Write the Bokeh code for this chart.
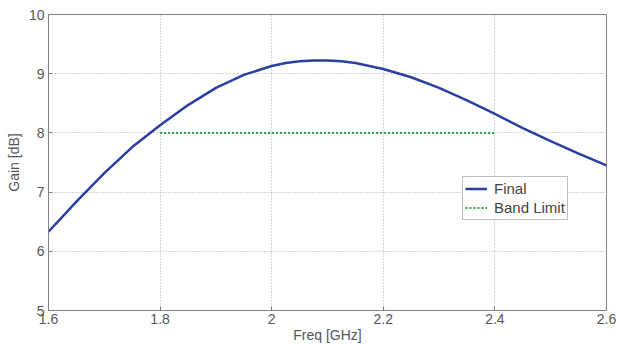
from bokeh.plotting import figure
from bokeh.embed import file_html
from bokeh.resources import INLINE
from bokeh.models import Legend, LegendItem, FixedTicker, Range1d

freq = [1.6, 1.65, 1.7, 1.75, 1.8, 1.85, 1.9, 1.95, 2.0, 2.025, 2.05, 2.075, 2.1,
        2.125, 2.15, 2.2, 2.25, 2.3, 2.35, 2.4, 2.45, 2.5, 2.55, 2.6]
gain = [6.33, 6.84, 7.32, 7.76, 8.13, 8.47, 8.76, 8.98, 9.13, 9.18, 9.21, 9.225, 9.225,
        9.21, 9.18, 9.08, 8.94, 8.76, 8.55, 8.32, 8.08, 7.86, 7.65, 7.45]
band_freq = [1.8, 2.4]
band_gain = [8.0, 8.0]
x_ticks = [1.6, 1.8, 2.0, 2.2, 2.4, 2.6]
x_labels = {1.6: "1.6", 1.8: "1.8", 2.0: "2", 2.2: "2.2", 2.4: "2.4", 2.6: "2.6"}
y_ticks = [5, 6, 7, 8, 9, 10]

p = figure(width=617, height=348, output_backend="svg", toolbar_location=None,
           x_range=Range1d(1.6, 2.6), y_range=Range1d(5, 10),
           min_border_left=48, min_border_right=11, min_border_top=14, min_border_bottom=38)
p.background_fill_color = "white"
p.border_fill_color = "white"
p.outline_line_color = "#808080"
p.outline_line_width = 1

font = "Liberation Sans"
for ax in (p.xaxis[0], p.yaxis[0]):
    ax.axis_line_color = "#808080"
    ax.major_tick_line_color = "#808080"
    ax.major_tick_in = 4
    ax.major_tick_out = 0
    ax.minor_tick_line_color = None
    ax.major_label_text_font = font
    ax.major_label_text_font_size = "14px"
    ax.major_label_text_color = "#555555"
    ax.axis_label_text_font = font
    ax.axis_label_text_font_size = "14px"
    ax.axis_label_text_font_style = "normal"
    ax.axis_label_text_color = "#555555"

p.xaxis.ticker = FixedTicker(ticks=x_ticks)
p.xaxis.major_label_overrides = x_labels
p.yaxis.ticker = FixedTicker(ticks=y_ticks)
p.xaxis.axis_label = "Freq [GHz]"
p.yaxis.axis_label = "Gain [dB]"
p.xaxis.axis_label_standoff = 0
p.yaxis.axis_label_standoff = 4
p.xaxis.major_label_standoff = 3
p.yaxis.major_label_standoff = 4

for g in (p.xgrid[0], p.ygrid[0]):
    g.grid_line_color = "#aaaaaa"
    g.grid_line_dash = "1 2"
    g.grid_line_width = 1

r1 = p.line(freq, gain, line_color="#2a3fa0", line_width=2.5, line_join="round")
r2 = p.line(band_freq, band_gain, line_color="#2e9e4f", line_width=2, line_dash="2 2")

legend = Legend(items=[LegendItem(label="Final", renderers=[r1]),
                       LegendItem(label="Band Limit", renderers=[r2])],
                location=(414, 90))
legend.label_text_font = font
legend.label_text_font_size = "15px"
legend.label_text_color = "#444444"
legend.border_line_color = "#808080"
legend.padding = 2
legend.spacing = 0
legend.margin = 0
legend.glyph_width = 22
legend.glyph_height = 19
legend.label_height = 19
legend.label_standoff = 7
legend.background_fill_alpha = 1
p.add_layout(legend, "center")

open("out.html", "w").write(file_html(p, INLINE))
